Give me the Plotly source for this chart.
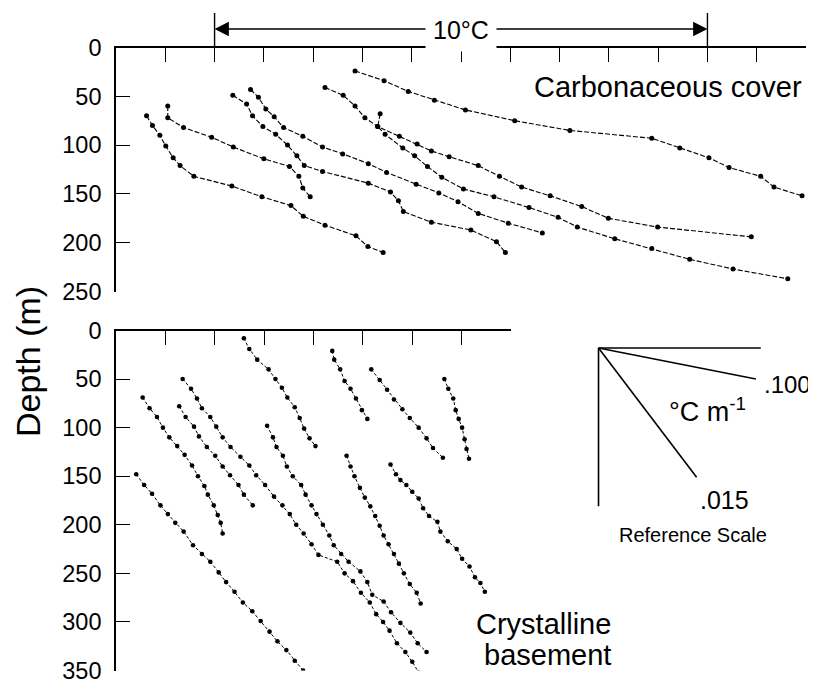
import plotly.graph_objects as go

# ---------------- data: temperature (relative, degC) vs depth (m) ----------------
# Carbonaceous cover (upper panel)
A_T = [0.62, 0.74, 0.89, 1.01, 1.16, 1.30, 1.58, 2.35, 2.96, 3.55, 3.80, 4.24, 4.87, 5.11, 5.42]
A_d = [70, 80, 90, 101, 113, 121, 132, 142, 153, 162, 173, 182, 193, 204, 210]
B_T = [1.05, 1.05, 1.37, 1.94, 2.38, 3.00, 3.52, 3.71, 3.79, 3.94]
B_d = [60, 72, 82, 92, 102, 114, 122, 132, 144, 153]
C_T = [2.37, 2.65, 2.77, 2.98, 3.24, 3.48, 3.67, 3.82, 4.19, 5.12, 5.57, 5.73, 5.83, 6.40, 7.20, 7.72, 7.90]
C_d = [49, 58, 70, 81, 89, 100, 111, 121, 127, 139, 148, 157, 168, 179, 187, 199, 210]
D_T = [2.73, 2.89, 3.04, 3.21, 3.40, 3.79, 4.19, 4.60, 5.12, 5.49, 6.09, 6.55, 6.94, 7.35, 7.96, 8.65]
D_d = [43, 51, 63, 71, 82, 91, 102, 109, 119, 128, 140, 149, 158, 170, 180, 190]
E_T = [4.24, 4.61, 4.85, 5.05, 5.31, 5.75, 6.11, 6.40, 6.76, 7.35, 7.78, 8.23, 8.81, 9.45, 9.99, 10.99, 12.89]
E_d = [41, 49, 60, 72, 81, 91, 99, 106, 112, 121, 132, 143, 152, 163, 175, 184, 194]
F_T = [5.36, 5.31, 5.46, 5.82, 6.06, 6.32, 6.61, 7.05, 7.67, 8.38, 8.97, 9.36, 10.12, 10.87, 11.64, 12.52, 13.63]
F_d = [68, 81, 89, 103, 111, 122, 133, 145, 153, 164, 174, 184, 196, 206, 217, 227, 237]
G_T = [4.85, 5.44, 5.93, 6.46, 7.09, 8.09, 9.21, 10.87, 11.44, 12.03, 12.44, 13.08, 13.35, 13.92]
G_d = [24, 34, 45, 54, 64, 75, 85, 93, 103, 113, 123, 132, 143, 152]

# Crystalline basement (lower panel)
P_T = [0.41, 0.57, 0.73, 0.90, 1.05, 1.20, 1.37, 1.56, 1.74, 1.91, 2.08, 2.23, 2.40, 2.57, 2.76, 2.93, 3.11, 3.27, 3.45, 3.62, 3.79]
P_d = [148, 159, 168, 180, 189, 198, 207, 221, 230, 238, 249, 259, 269, 280, 289, 299, 310, 320, 329, 340, 350]
Q_T = [0.54, 0.68, 0.83, 0.95, 1.08, 1.24, 1.39, 1.54, 1.66, 1.79, 1.86, 1.98, 2.06, 2.12, 2.16]
Q_d = [69, 80, 89, 100, 110, 119, 128, 139, 150, 160, 169, 180, 190, 198, 209]
R_T = [1.28, 1.41, 1.58, 1.68, 1.84, 2.01, 2.16, 2.31, 2.48, 2.59, 2.77]
R_d = [78, 89, 99, 109, 120, 129, 140, 149, 159, 169, 180]
S_T = [1.35, 1.52, 1.64, 1.74, 1.91, 2.03, 2.16, 2.32, 2.52, 2.70, 2.84, 3.02, 3.20, 3.37, 3.52, 3.65,
       3.80, 3.96, 4.10, 4.48, 4.63, 4.80, 4.96, 5.14, 5.27, 5.41, 5.54, 5.69, 5.86, 6.00, 6.13]
S_d = [50, 60, 70, 80, 89, 99, 110, 120, 130, 139, 149, 159, 171, 180, 189, 200,
       209, 220, 231, 238, 250, 258, 270, 280, 292, 300, 309, 322, 331, 341, 352]
M_T = [2.59, 2.70, 2.86, 3.09, 3.23, 3.36, 3.47, 3.62, 3.72, 3.81, 3.92, 4.04]
M_d = [8, 19, 30, 40, 50, 59, 69, 79, 90, 101, 111, 119]
U_T = [3.06, 3.18, 3.25, 3.38, 3.46, 3.58, 3.75, 3.84, 3.96, 4.06, 4.19, 4.32, 4.41, 4.56, 4.71, 4.95,
       5.09, 5.19, 5.42, 5.57, 5.76, 5.96, 6.11, 6.29]
U_d = [98, 110, 120, 129, 140, 150, 159, 169, 180, 189, 200, 211, 221, 230, 238, 248,
       259, 272, 279, 290, 301, 311, 322, 331]
V_T = [4.38, 4.42, 4.54, 4.63, 4.75, 4.86, 4.98, 5.09]
V_d = [21, 30, 40, 52, 60, 70, 82, 91]
W_T = [5.17, 5.34, 5.49, 5.63, 5.80, 5.95, 6.13, 6.29, 6.42, 6.62]
W_d = [40, 51, 61, 71, 81, 90, 100, 111, 121, 131]
X_T = [6.65, 6.73, 6.83, 6.88, 6.94, 7.01, 7.06, 7.10, 7.15]
X_d = [50, 60, 70, 82, 91, 100, 112, 122, 132]
Y_T = [4.67, 4.75, 4.83, 4.94, 5.04, 5.15, 5.25, 5.34, 5.42, 5.52, 5.63, 5.73, 5.83, 5.95, 6.09, 6.17]
Y_d = [129, 140, 150, 162, 172, 181, 191, 201, 211, 220, 230, 240, 250, 261, 270, 281]
Z_T = [5.56, 5.67, 5.76, 5.88, 6.00, 6.13, 6.22, 6.34, 6.51, 6.57, 6.72, 6.90, 7.01, 7.16, 7.27, 7.38, 7.47]
Z_d = [138, 148, 154, 159, 166, 173, 183, 191, 197, 207, 217, 225, 235, 243, 254, 260, 269]

# axis ticks
top_depth_ticks = [0, 50, 100, 150, 200, 250]
bottom_depth_ticks = [0, 50, 100, 150, 200, 250, 300, 350]
top_temp_range = [0, 14]
bottom_temp_range = [0, 8]

# 10 degC span marker (temperature positions on upper axis)
span_T = [2, 12]
span_label = "10°C"

# reference scale (gradients in degC per m)
ref_origin_T = 9.78
ref_origin_d = 18
ref_gradients = [0.100, 0.015]
ref_lengths_d = [32, 133]
ref_axis_T_end = 13.08
ref_axis_d_end = 181
ref_labels = [".100", ".015"]

top_profiles = [(A_T, A_d), (B_T, B_d), (C_T, C_d), (D_T, D_d), (E_T, E_d), (F_T, F_d), (G_T, G_d)]
bottom_profiles = [(P_T, P_d), (Q_T, Q_d), (R_T, R_d), (S_T, S_d), (M_T, M_d), (U_T, U_d),
                   (V_T, V_d), (W_T, W_d), (X_T, X_d), (Y_T, Y_d), (Z_T, Z_d)]

# ---------------- figure ----------------
# The page body has an 8px margin, so the figure is sized to fit the window exactly
OFF = 8
W, H = 816 - OFF, 680 - OFF
FONT = "Liberation Sans, Arial, Helvetica, sans-serif"


def px_x(p):
    """screen pixel -> paper fraction"""
    return (p - OFF) / W


def px_y(p):
    return 1 - (p - OFF) / H


fig = go.Figure()

for T, d in top_profiles:
    fig.add_trace(go.Scatter(x=T, y=d, mode="lines+markers", xaxis="x", yaxis="y",
                             line=dict(color="black", width=1.1, dash="5px,2px"),
                             marker=dict(size=5, color="black"), showlegend=False,
                             hoverinfo="skip"))
for T, d in bottom_profiles:
    fig.add_trace(go.Scatter(x=T, y=d, mode="lines+markers", xaxis="x2", yaxis="y2",
                             line=dict(color="black", width=1.0, dash="3px,2px"),
                             marker=dict(size=4.6, color="black"), showlegend=False,
                             hoverinfo="skip"))

# reference scale on a hidden axis pair continuing the lower panel's scale
ref_line = dict(color="black", width=1.6)
fig.add_trace(go.Scatter(x=[ref_origin_T, ref_axis_T_end], y=[ref_origin_d, ref_origin_d],
                         mode="lines", xaxis="x3", yaxis="y3", line=ref_line,
                         showlegend=False, hoverinfo="skip"))
fig.add_trace(go.Scatter(x=[ref_origin_T, ref_origin_T], y=[ref_origin_d, ref_axis_d_end],
                         mode="lines", xaxis="x3", yaxis="y3", line=ref_line,
                         showlegend=False, hoverinfo="skip"))
for g, L in zip(ref_gradients, ref_lengths_d):
    fig.add_trace(go.Scatter(x=[ref_origin_T, ref_origin_T + g * L],
                             y=[ref_origin_d, ref_origin_d + L],
                             mode="lines", xaxis="x3", yaxis="y3", line=ref_line,
                             showlegend=False, hoverinfo="skip"))

top_xdom = [px_x(116), px_x(806)]
top_ydom = [px_y(291.5), px_y(47.5)]
bot_xdom = [px_x(116), px_x(511)]
bot_ydom = [px_y(670.5), px_y(330.5)]

tickfont = dict(family=FONT, size=23.5, color="black")
axis_common = dict(showgrid=False, zeroline=False, showline=True, linecolor="black",
                   linewidth=1.6, ticks="inside", tickcolor="black", tickwidth=1.4,
                   automargin=False)

fig.update_layout(
    width=W, height=H,
    margin=dict(l=0, r=0, t=0, b=0, pad=0),
    paper_bgcolor="white", plot_bgcolor="rgba(0,0,0,0)",
    font=dict(family=FONT, color="black"),
    xaxis=dict(domain=top_xdom, range=top_temp_range, side="top", anchor="y",
               tickmode="linear", tick0=0, dtick=1, ticklen=15, showticklabels=False,
               **axis_common),
    yaxis=dict(domain=top_ydom, range=[250, 0], anchor="x", tickmode="array",
               tickvals=top_depth_ticks, ticklen=14, tickfont=tickfont,
               ticklabelstandoff=8, ticklabeloverflow="allow", **axis_common),
    xaxis2=dict(domain=bot_xdom, range=bottom_temp_range, side="top", anchor="y2",
                tickmode="linear", tick0=0, dtick=1, ticklen=15, showticklabels=False,
                **axis_common),
    yaxis2=dict(domain=bot_ydom, range=[350, 0], anchor="x2", tickmode="array",
                tickvals=bottom_depth_ticks, ticklen=14, tickfont=tickfont,
                ticklabelstandoff=8, ticklabeloverflow="allow", **axis_common),
    xaxis3=dict(domain=[px_x(511), px_x(806)], range=[8, 14], anchor="y3", visible=False,
                automargin=False),
    yaxis3=dict(domain=bot_ydom, range=[350, 0], anchor="x3", visible=False,
                automargin=False),
)

# vertical bars marking the 10 degC span
for t in span_T:
    fig.add_shape(type="line", xref="x", yref="paper", x0=t, x1=t,
                  y0=px_y(48), y1=px_y(13), line=dict(color="black", width=1.4))

annotations = []
span_mid = (span_T[0] + span_T[1]) / 2
for t in span_T:
    annotations.append(dict(x=t, y=px_y(29), xref="x", yref="paper",
                            ax=span_mid, ay=0, axref="x", ayref="pixel",
                            text="", showarrow=True, arrowhead=2, arrowsize=2.2,
                            arrowwidth=1.3, arrowcolor="black"))
annotations.append(dict(x=span_mid, y=px_y(30), xref="x", yref="paper", text=span_label,
                        showarrow=False, bgcolor="white", borderpad=7,
                        xanchor="center", yanchor="middle",
                        font=dict(family=FONT, size=25, color="black")))
annotations.append(dict(x=px_x(804), y=px_y(87), xref="paper", yref="paper",
                        text="Carbonaceous cover", showarrow=False, xanchor="right",
                        yanchor="middle", font=dict(family=FONT, size=29, color="black")))
annotations.append(dict(x=px_x(613), y=px_y(624), xref="paper", yref="paper",
                        text="Crystalline", showarrow=False, xanchor="right",
                        yanchor="middle", font=dict(family=FONT, size=29, color="black")))
annotations.append(dict(x=px_x(613), y=px_y(655), xref="paper", yref="paper",
                        text="basement", showarrow=False, xanchor="right",
                        yanchor="middle", font=dict(family=FONT, size=29, color="black")))
annotations.append(dict(x=px_x(28), y=px_y(362), xref="paper", yref="paper",
                        text="Depth (m)", showarrow=False, textangle=-90,
                        xanchor="center", yanchor="middle",
                        font=dict(family=FONT, size=34, color="black")))
# reference scale labels
annotations.append(dict(x=13.62, y=56, xref="x3", yref="y3", text=ref_labels[0],
                        showarrow=False, font=dict(family=FONT, size=24, color="black")))
annotations.append(dict(x=12.35, y=174, xref="x3", yref="y3", text=ref_labels[1],
                        showarrow=False, font=dict(family=FONT, size=25, color="black")))
annotations.append(dict(x=12.0, y=82, xref="x3", yref="y3", text="°C m<sup>-1</sup>",
                        showarrow=False, font=dict(family=FONT, size=27, color="black")))
annotations.append(dict(x=11.7, y=211, xref="x3", yref="y3", text="Reference Scale",
                        showarrow=False, font=dict(family=FONT, size=20, color="black")))

fig.update_layout(annotations=annotations)

fig.write_html("out.html")
